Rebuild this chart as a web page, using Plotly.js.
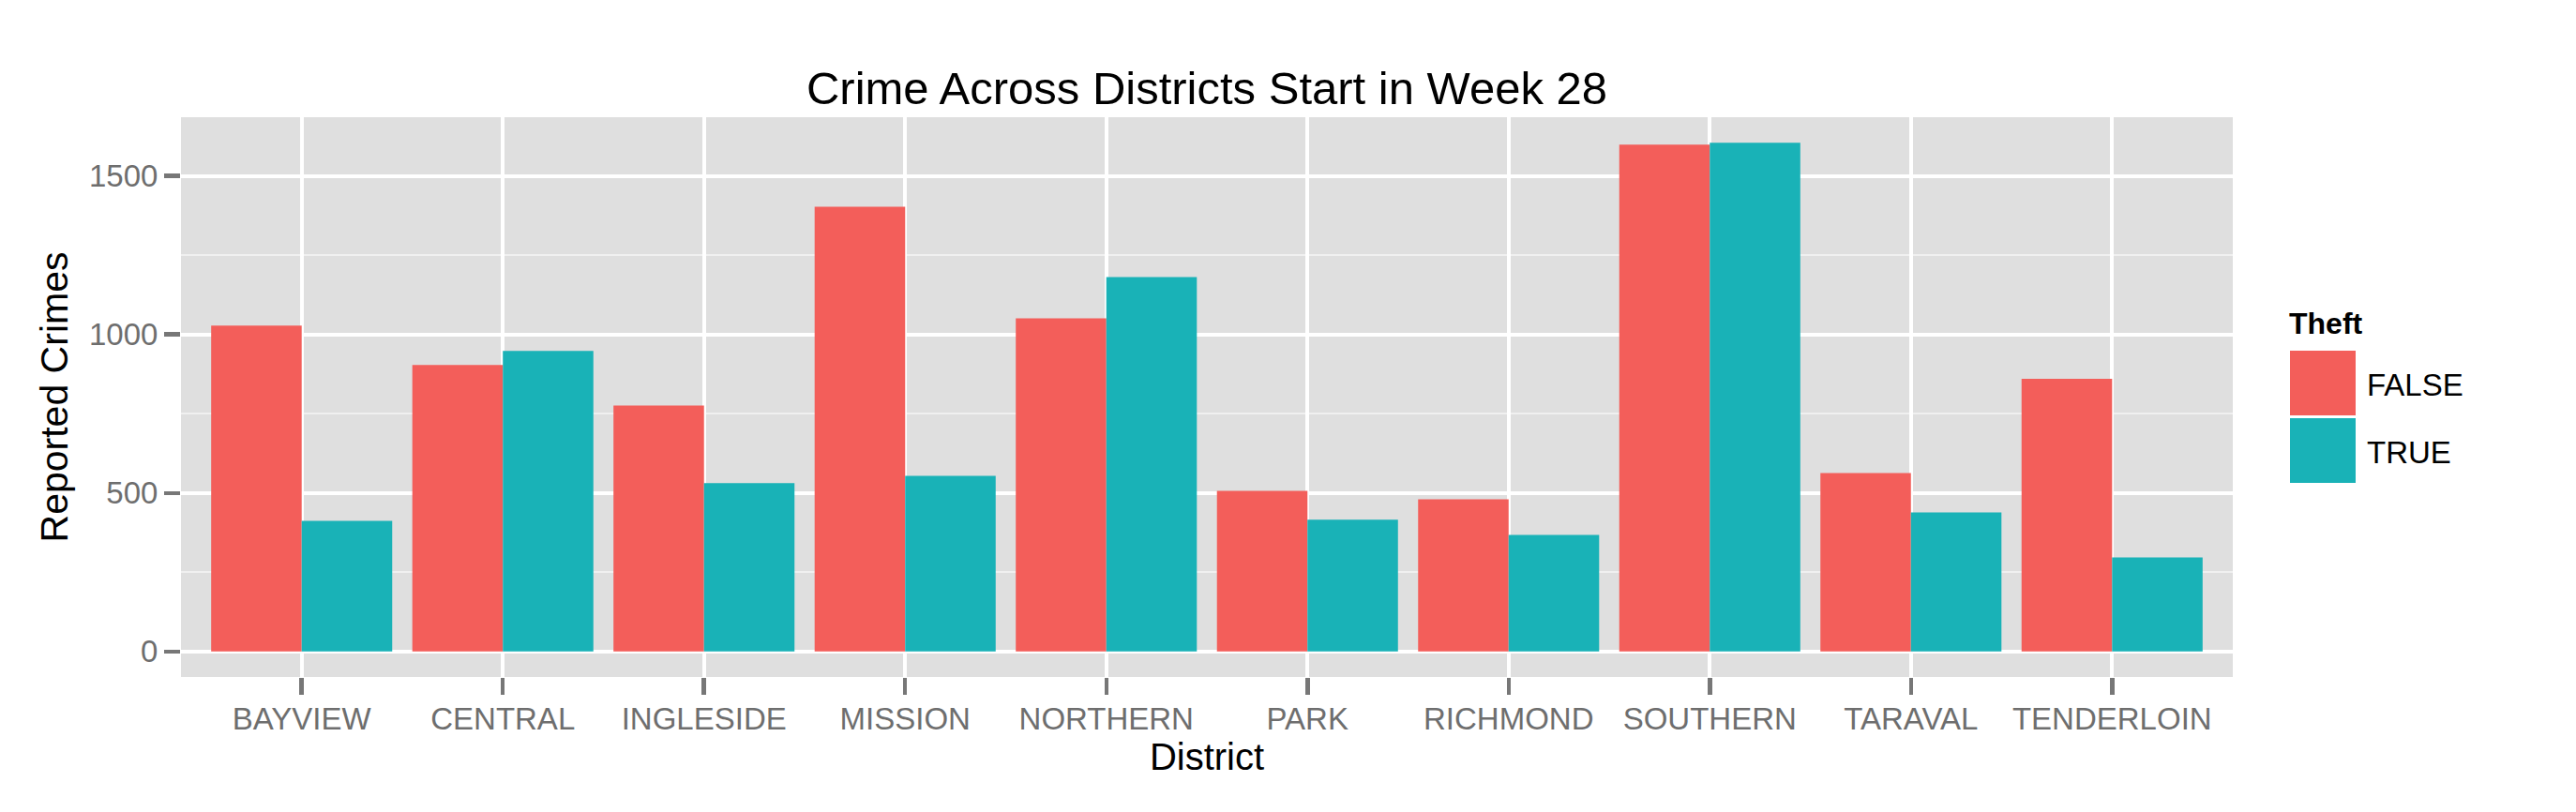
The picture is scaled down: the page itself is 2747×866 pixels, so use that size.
<!DOCTYPE html>
<html><head><meta charset="utf-8">
<script src="https://cdn.plot.ly/plotly-3.0.1.min.js"></script>
<style>html,body{margin:0;padding:0;background:#fff}#chart{width:2747px;height:866px}</style>
</head><body><div id="chart"></div>
<script>
// ---- data ----
const districts = ['BAYVIEW','CENTRAL','INGLESIDE','MISSION','NORTHERN','PARK','RICHMOND','SOUTHERN','TARAVAL','TENDERLOIN'];
const theftFalse = [1028, 904, 776, 1403, 1051, 507, 480, 1599, 563, 860];
const theftTrue  = [412, 948, 531, 554, 1181, 416, 368, 1605, 439, 297];
const seriesNames = ['FALSE', 'TRUE'];
const yTickVals = [0, 500, 1000, 1500];
const chartTitle = 'Crime Across Districts Start in Week 28';
const xTitle = 'District';
const yTitle = 'Reported Crimes';
const legendTitle = 'Theft';

// ---- styling ----
const colors = ['#F35E5A', '#19B2B7'];
const FONT = 'Liberation Sans, Arial, Helvetica, sans-serif';
const W = 2747, H = 866;
const M = {l: 193, r: 366, t: 125, b: 144, pad: 0};
const plotW = W - M.l - M.r, plotH = H - M.t - M.b;
const px2x = X => (X - M.l) / plotW;
const px2y = Y => (H - M.b - Y) / plotH;

const maxVal = Math.max(...theftFalse, ...theftTrue);
const yRange = [-0.05 * maxVal, 1.05 * maxVal];
const xRange = [-0.6, districts.length - 0.4];

const traces = [theftFalse, theftTrue].map((vals, i) => ({
  type: 'bar', x: districts, y: vals, name: seriesNames[i],
  marker: {color: colors[i], line: {width: 0}},
  hoverinfo: 'x+y+name'
}));

// custom ggplot-like legend (keys + labels)
const keyX0 = 2441, keyX1 = 2513;
const keyTops = [373, 445], keyH = 72;
const shapes = [];
const annotations = [];
seriesNames.forEach((n, i) => {
  shapes.push({type: 'rect', xref: 'paper', yref: 'paper',
    x0: px2x(keyX0), x1: px2x(keyX1), y0: px2y(keyTops[i] + keyH - 1), y1: px2y(keyTops[i]),
    fillcolor: colors[i], line: {color: '#ffffff', width: 2}});
  annotations.push({xref: 'paper', yref: 'paper', x: px2x(2522), y: px2y(keyTops[i] + keyH/2 + 1),
    xanchor: 'left', yanchor: 'middle', showarrow: false, text: n,
    font: {family: FONT, size: 33, color: '#000'}});
});
annotations.push({xref: 'paper', yref: 'paper', x: px2x(2439), y: px2y(345),
  xanchor: 'left', yanchor: 'middle', showarrow: false, text: '<b>' + legendTitle + '</b>',
  font: {family: FONT, size: 32, color: '#000'}});

const layout = {
  width: W, height: H, margin: M,
  paper_bgcolor: '#ffffff', plot_bgcolor: '#DFDFDF',
  showlegend: false,
  barmode: 'group', bargap: 0.1, bargroupgap: 0,
  font: {family: FONT},
  title: {text: chartTitle, font: {family: FONT, size: 49, color: '#000'},
    x: 0.5, xref: 'paper', xanchor: 'center', y: 1 - 94/H, yref: 'container', yanchor: 'middle'},
  xaxis: {
    type: 'category', range: xRange, showgrid: true, gridcolor: '#ffffff', gridwidth: 4,
    ticks: 'outside', ticklen: 18, tickwidth: 4.5, tickcolor: '#777777',
    ticklabelstandoff: -3,
    tickfont: {family: FONT, size: 33, color: '#6E6E6E'},
    showline: false, zeroline: false, fixedrange: true,
    title: {text: xTitle, font: {family: FONT, size: 40, color: '#000'}, standoff: 3}
  },
  yaxis: {
    range: yRange, tickmode: 'array', tickvals: yTickVals,
    showgrid: true, gridcolor: '#ffffff', gridwidth: 4,
    minor: {dtick: 250, tick0: 0, showgrid: true, gridcolor: '#F0F0F0', gridwidth: 2, ticks: ''},
    ticks: 'outside', ticklen: 17, tickwidth: 4.5, tickcolor: '#777777',
    tickfont: {family: FONT, size: 33, color: '#6E6E6E'},
    showline: false, zeroline: false, fixedrange: true,
    title: {text: yTitle, font: {family: FONT, size: 41, color: '#000'}, standoff: 9}
  },
  shapes: shapes, annotations: annotations
};

Plotly.newPlot('chart', traces, layout, {displayModeBar: false, staticPlot: true});
</script>
</body></html>
